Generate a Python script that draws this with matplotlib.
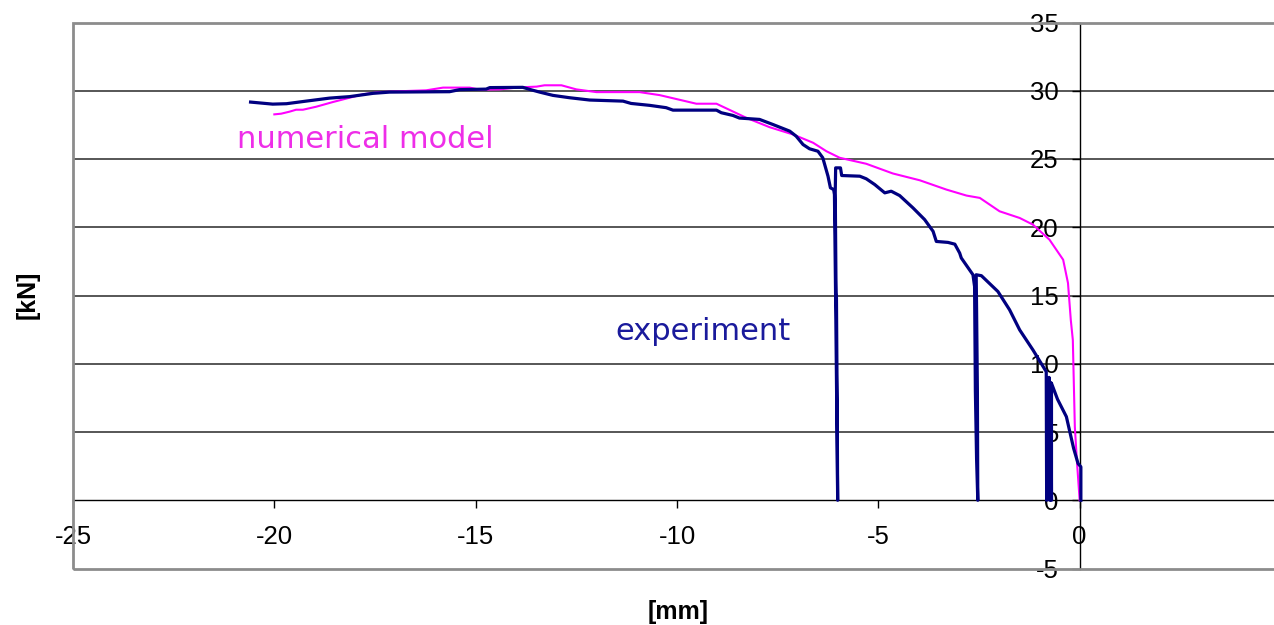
import matplotlib
matplotlib.use("Agg")
import matplotlib.pyplot as plt
from matplotlib.patches import Rectangle

# ---- data ----
exp_x = [-20.59, -20.04, -19.70, -19.21, -18.63, -18.13, -17.55, -17.14, -15.65, -15.40,
         -14.74, -14.65, -13.83, -13.66, -13.41, -13.08, -12.67, -12.17, -11.34, -11.14,
         -10.68, -10.27, -10.10, -9.02, -8.90, -8.61, -8.45, -7.95, -7.62, -7.20,
         -7.04, -6.87, -6.71, -6.50, -6.38, -6.25, -6.19, -6.11,
         -6.09, -6.06, -6.03, -6.01, -6.02, -6.04, -6.05, -6.07, -6.06,
         -5.94, -5.91, -5.46, -5.30, -5.09, -4.84, -4.68, -4.47, -4.14, -3.85,
         -3.64, -3.56, -3.27, -3.10, -2.98, -2.94, -2.65, -2.61,
         -2.59, -2.56, -2.53, -2.54, -2.56, -2.57,
         -2.44, -2.03, -1.74, -1.49, -1.16, -0.83,
         -0.82, -0.80, -0.78, -0.76, -0.74, -0.73, -0.72, -0.71, -0.70, -0.70,
         -0.55, -0.33, -0.15, -0.04, 0.03, 0.03]
exp_y = [29.17, 29.02, 29.05, 29.24, 29.46, 29.57, 29.81, 29.90, 29.93, 30.08,
         30.12, 30.23, 30.25, 30.10, 29.90, 29.66, 29.49, 29.32, 29.24, 29.07,
         28.93, 28.76, 28.58, 28.58, 28.39, 28.19, 28.00, 27.90, 27.53, 27.04,
         26.67, 26.06, 25.75, 25.57, 25.09, 23.74, 22.89, 22.76,
         22.40, 14.60, 6.00, 0.00, 6.00, 14.80, 15.20, 22.60, 24.35,
         24.35, 23.79, 23.74, 23.55, 23.13, 22.52, 22.64, 22.32, 21.42, 20.56,
         19.70, 18.96, 18.89, 18.76, 18.11, 17.75, 16.52, 15.66,
         8.00, 3.00, 0.00, 8.00, 14.00, 16.52,
         16.45, 15.29, 13.95, 12.48, 11.01, 9.42,
         0.00, 8.80, 0.20, 9.00, 0.00, 8.40, 0.10, 8.60, 0.00, 8.57,
         7.40, 6.12, 3.80, 2.69, 2.45, 0.00]

num_x = [-20.00, -19.83, -19.62, -19.46, -19.29, -18.96, -18.55, -18.13, -17.80, -17.39,
         -16.72, -16.23, -15.81, -15.15, -14.90, -14.41, -13.91, -13.49, -13.29, -12.87,
         -12.50, -12.00, -10.93, -10.43, -9.52, -9.02, -8.28, -7.70, -7.12, -6.62,
         -6.29, -5.96, -5.30, -4.64, -3.97, -3.31, -2.81, -2.48, -1.99, -1.49,
         -1.16, -0.75, -0.41, -0.29, -0.22, -0.17, -0.12, -0.07, 0.00]
num_y = [28.27, 28.32, 28.47, 28.61, 28.61, 28.83, 29.17, 29.49, 29.74, 29.90,
         29.98, 30.03, 30.23, 30.23, 30.08, 30.10, 30.25, 30.30, 30.40, 30.40,
         30.10, 29.90, 29.90, 29.68, 29.05, 29.05, 28.02, 27.33, 26.80, 26.19,
         25.57, 25.09, 24.65, 23.94, 23.44, 22.76, 22.32, 22.15, 21.17, 20.68,
         20.19, 19.09, 17.62, 15.91, 13.20, 11.75, 5.38, 2.94, 0.00]

x_ticks = [-25, -20, -15, -10, -5, 0]
x_tick_labels = ["-25", "-20", "-15", "-10", "-5", "0"]
y_ticks = [-5, 0, 5, 10, 15, 20, 25, 30, 35]
y_tick_labels = ["-5", "0", "5", "10", "15", "20", "25", "30", "35"]

# ---- figure ----
W, H = 1274, 625
fig = plt.figure(figsize=(W / 100, H / 100), dpi=100)
left, right, top, bottom = 73, 1281, 22.5, 568.5
ax = fig.add_axes([left / W, 1 - bottom / H, (right - left) / W, (bottom - top) / H])
ax.set_xlim(-25, 5)
ax.set_ylim(-5, 35)

# gridlines
for g in [5, 10, 15, 20, 25, 30]:
    ax.axhline(g, color="#3a3a3a", lw=1.2, zorder=1)

# frame
ax.add_patch(Rectangle((0, 0), 1, 1, transform=ax.transAxes, fill=False,
                       edgecolor="#8c8c8c", lw=2.0, clip_on=False, zorder=3))

ax.spines["top"].set_visible(False)
ax.spines["right"].set_visible(False)
ax.spines["left"].set_position(("data", 0))
ax.spines["bottom"].set_position(("data", 0))
for s in ("left", "bottom"):
    ax.spines[s].set_color("black")
    ax.spines[s].set_linewidth(1.0)
    ax.spines[s].set_zorder(2)

ax.set_xticks(x_ticks)
ax.set_xticklabels(x_tick_labels)
ax.set_yticks(y_ticks)
ax.set_yticklabels(y_tick_labels)
ax.tick_params(axis="both", direction="out", length=6, width=1, color="black",
               labelsize=18.5)
ax.tick_params(axis="x", pad=12)
ax.tick_params(axis="y", pad=9)
for lab in ax.get_xticklabels() + ax.get_yticklabels():
    lab.set_family("Liberation Sans")

ax.plot(exp_x, exp_y, color="#000080", lw=2.3, zorder=5)
ax.plot(num_x, num_y, color="#ff00ff", lw=1.5, zorder=4)

fig.text(237 / W, 1 - 148 / H, "numerical model", color="#ee2ee8",
         fontsize=22, family="DejaVu Sans", ha="left", va="baseline")
fig.text(615 / W, 1 - 340 / H, "experiment", color="#1a1a9c",
         fontsize=22, family="DejaVu Sans", ha="left", va="baseline")

fig.text(28 / W, 1 - 295 / H, "[kN]", rotation=90, fontsize=18, fontweight="bold",
         family="Liberation Sans", ha="center", va="center")
fig.text(678 / W, 1 - 612 / H, "[mm]", fontsize=18, fontweight="bold",
         family="Liberation Sans", ha="center", va="center")

fig.savefig("out.png", dpi=100)
